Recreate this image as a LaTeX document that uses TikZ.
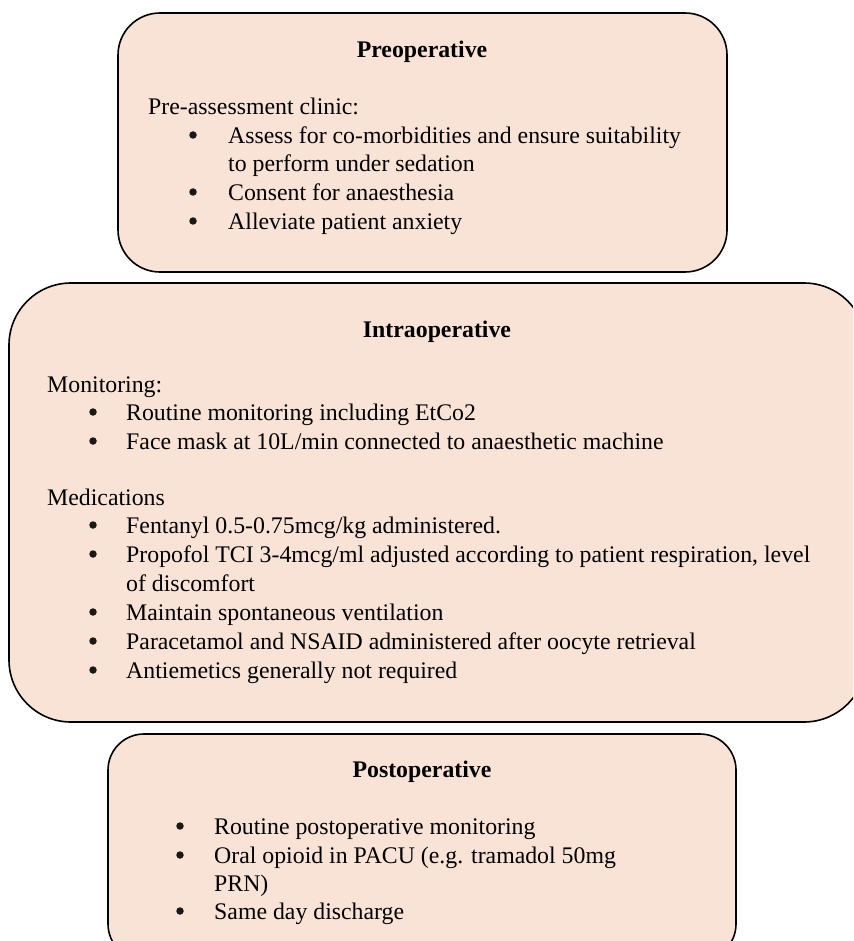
\documentclass[tikz,border=0pt]{standalone}
\usepackage{fontspec}
\setmainfont{Liberation Serif}
\definecolor{peach}{RGB}{249,227,214}
\tikzset{
  phase/.style={draw=black, line width=1.6pt, fill=peach},
  txt/.style={anchor=base west, inner sep=0pt, font=\fontsize{23.8}{28}\selectfont},
  ttl/.style={anchor=base, inner sep=0pt, font=\fontsize{23.8}{28}\selectfont\bfseries},
  bul/.style={circle, fill=black!90, inner sep=0pt, minimum size=7.5pt, yshift=8.5pt},
}
\begin{document}
\begin{tikzpicture}[x=1pt,y=-1pt]
\useasboundingbox (0,0) rectangle (853,941);
\clip (0,0) rectangle (853,941);
\fill[white] (0,0) rectangle (853,941);
% boxes
\draw[phase, rounded corners=42pt] (118,13) rectangle (727,272);
\draw[phase, rounded corners=62pt] (9,283) rectangle (866,722);
\draw[phase, rounded corners=36pt] (108,734) rectangle (736,960);
% Preoperative
\node[ttl] (t1) at (422,58) {Preoperative};
\node[txt] (p0) at (148,114.5) {Pre-assessment clinic:};
\node[bul] (b11) at (193,143.5) {};
\node[txt] (p1) at (228,143.5) {Assess for co-morbidities and ensure suitability};
\node[txt] (p1b) at (228,171.5) {to perform under sedation};
\node[bul] (b12) at (193,200.5) {};
\node[txt] (p2) at (228,200.5) {Consent for anaesthesia};
\node[bul] (b13) at (193,229.5) {};
\node[txt] (p3) at (228,229.5) {Alleviate patient anxiety};
% Intraoperative
\node[ttl] (t2) at (437,337) {Intraoperative};
\node[txt] (m0) at (47,392.5) {Monitoring:};
\node[bul] (b21) at (93,420.5) {};
\node[txt] (m1) at (126,420.5) {Routine monitoring including EtCo2};
\node[bul] (b22) at (93,449.5) {};
\node[txt] (m2) at (126,449.5) {Face mask at 10L/min connected to anaesthetic machine};
\node[txt] (d0) at (47,505.5) {Medications};
\node[bul] (b23) at (93,533.5) {};
\node[txt] (d1) at (126,533.5) {Fentanyl 0.5-0.75mcg/kg administered.};
\node[bul] (b24) at (93,562.5) {};
\node[txt] (d2) at (126,562.5) {Propofol TCI 3-4mcg/ml adjusted according to patient respiration, level};
\node[txt] (d2b) at (126,591.5) {of discomfort};
\node[bul] (b25) at (93,620.5) {};
\node[txt] (d3) at (126,620.5) {Maintain spontaneous ventilation};
\node[bul] (b26) at (93,649.5) {};
\node[txt] (d4) at (126,649.5) {Paracetamol and NSAID administered after oocyte retrieval};
\node[bul] (b27) at (93,678.5) {};
\node[txt] (d5) at (126,678.5) {Antiemetics generally not required};
% Postoperative
\node[ttl] (t3) at (422,777) {Postoperative};
\node[bul] (b31) at (180,834.5) {};
\node[txt] (q1) at (214,834.5) {Routine postoperative monitoring};
\node[bul] (b32) at (180,863.5) {};
\node[txt] (q2) at (214,863.5) {Oral opioid in PACU (e.g. tramadol 50mg};
\node[txt] (q2b) at (214,891.5) {PRN)};
\node[bul] (b33) at (180,919.5) {};
\node[txt] (q3) at (214,919.5) {Same day discharge};
\end{tikzpicture}
\end{document}
